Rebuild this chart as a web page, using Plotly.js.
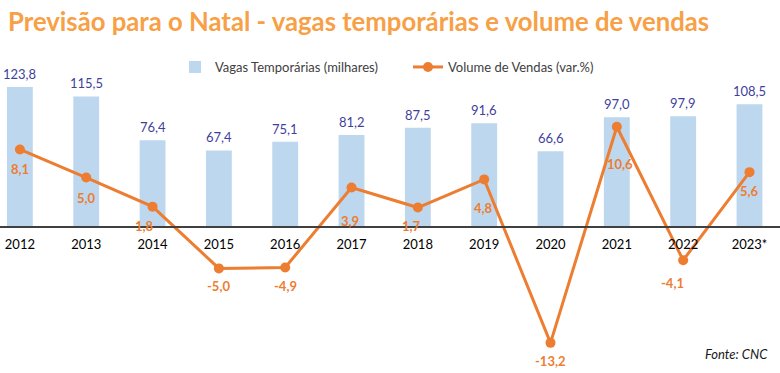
<!DOCTYPE html>
<html>
<head>
<meta charset="utf-8">
<script src="https://cdn.plot.ly/plotly-3.0.1.min.js"></script>
<style>html,body{margin:0;padding:0;background:#fff;}#chart{width:780px;height:373px;}</style>
</head>
<body>
<div id="chart"></div>
<script>
const years = ["2012","2013","2014","2015","2016","2017","2018","2019","2020","2021","2022","2023*"];
const vagas = [123.8,115.5,76.4,67.4,75.1,81.2,87.5,91.6,66.6,97.0,97.9,108.5];
const vendas = [8.1,5.0,1.8,-5.0,-4.9,3.9,1.7,4.8,-13.2,10.6,-4.1,5.6];

// label offsets (style only): pixels below point, horizontal shift
const lineLabelDy = [20,20,19,18,19,33,18,29,18,37,23,19];
const lineLabelDx = [0,0,-8,0,0,-2,-6,-1,0,3,-11,0];

const fmt = v => v.toFixed(1).replace('.', ',');
const FONT = 'Lato, "Open Sans", sans-serif';

const annotations = [];
years.forEach((yr, i) => {
  annotations.push({
    x: i, y: vagas[i], xref: 'x', yref: 'y', text: fmt(vagas[i]),
    showarrow: false, yanchor: 'middle', yshift: 13,
    font: {family: FONT, size: 13, color: '#3F3F9C'}
  });
  annotations.push({
    x: i, y: vendas[i], xref: 'x', yref: 'y2', text: '<b>' + fmt(vendas[i]) + '</b>',
    showarrow: false, yanchor: 'middle', yshift: -lineLabelDy[i], xshift: lineLabelDx[i],
    font: {family: FONT, size: 13, color: '#ED7D31'}
  });
});
annotations.push({
  x: 770/780, y: (360-354)/300, xref: 'paper', yref: 'paper', xanchor: 'right', yanchor: 'middle',
  text: '<i>Fonte: CNC</i>', showarrow: false,
  font: {family: FONT, size: 13, color: '#1a1a1a'}
});

const traces = [
  {
    type: 'bar', x: years, y: vagas, name: 'Vagas Temporárias (milhares)',
    marker: {color: '#BDD7EE'}, width: 0.39, hoverinfo: 'skip', yaxis: 'y'
  },
  {
    type: 'scatter', mode: 'lines+markers', x: years, y: vendas, name: 'Volume de Vendas (var.%)',
    line: {color: '#ED7D31', width: 3}, marker: {color: '#ED7D31', size: 10},
    yaxis: 'y2', hoverinfo: 'skip', cliponaxis: false
  }
];

const layout = {
  width: 780, height: 373,
  margin: {l: 0, r: 0, t: 60, b: 13, pad: 0},
  paper_bgcolor: '#fff', plot_bgcolor: '#fff',
  font: {family: FONT, color: '#404040'},
  title: {
    text: '<b>Previsão para o Natal - vagas temporárias e volume de vendas</b>',
    x: 8/780, xanchor: 'left', xref: 'paper', y: 1 - 22/373, yanchor: 'middle', yref: 'container',
    font: {family: FONT, size: 25.7, color: '#F7A046'}
  },
  showlegend: true,
  legend: {
    orientation: 'h', x: 175/780, xanchor: 'left', y: (360-67)/300, yanchor: 'middle',
    entrywidth: 188, entrywidthmode: 'pixels',
    font: {family: FONT, size: 13, color: '#404040'}, bgcolor: 'rgba(0,0,0,0)'
  },
  xaxis: {
    type: 'category', range: [-0.30, 11.46], anchor: 'free', position: (360-226)/300,
    showline: true, linecolor: '#404040', linewidth: 1.5, ticks: '', showgrid: false, zeroline: false,
    tickfont: {family: FONT, size: 13, color: '#000'}, ticklabelstandoff: 6, fixedrange: true
  },
  yaxis: {range: [-119.4, 147.95], visible: false, showgrid: false, zeroline: false},
  yaxis2: {range: [-15.09, 17.95], overlaying: 'y', visible: false, showgrid: false, zeroline: false},
  annotations: annotations
};

Plotly.newPlot('chart', traces, layout, {displayModeBar: false, staticPlot: true});
</script>
</body>
</html>
